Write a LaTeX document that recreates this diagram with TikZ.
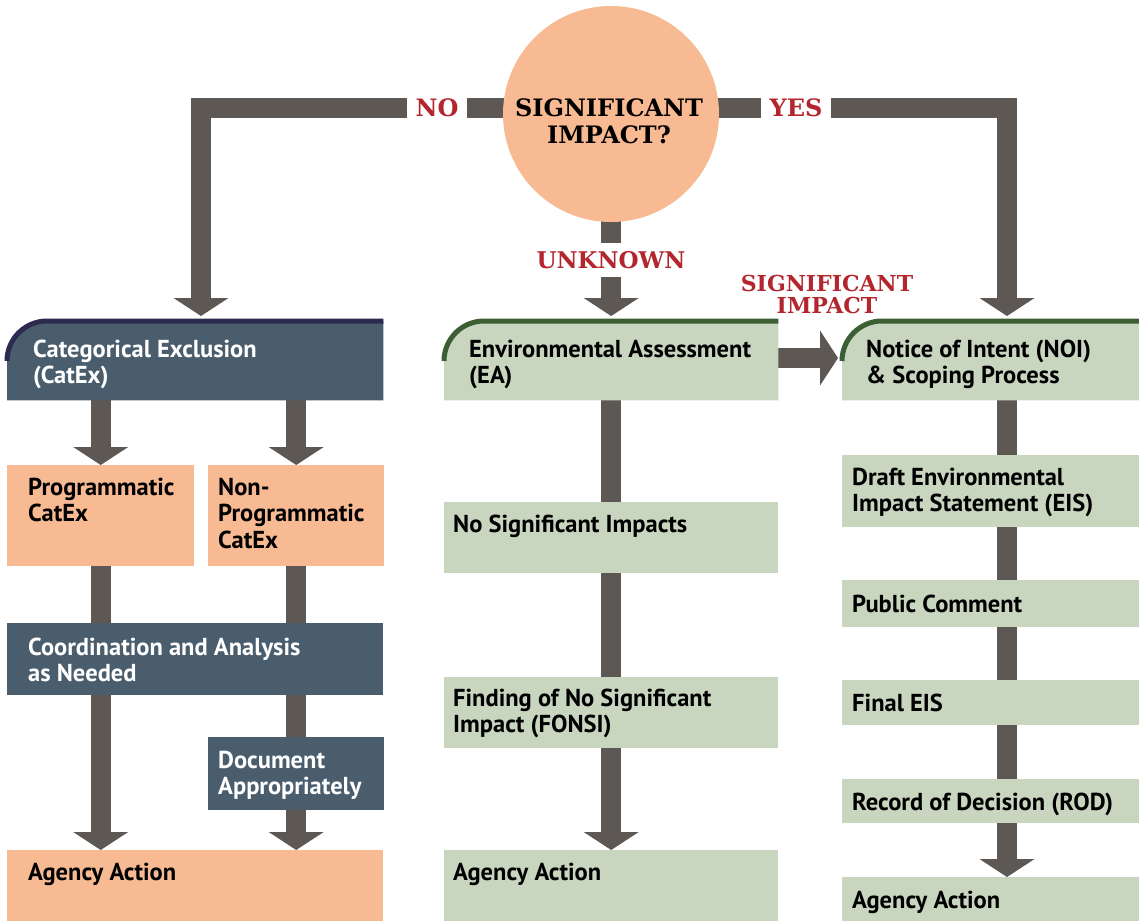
\documentclass[tikz,border=0pt]{standalone}
\usepackage{fontspec}
\setmainfont{PT Sans}
\newfontfamily\slab{DejaVu Serif}
\usetikzlibrary{arrows.meta,shapes.geometric,calc}
\definecolor{shaftc}{HTML}{5E5854}
\definecolor{slatec}{HTML}{4A5D6D}
\definecolor{navyc}{HTML}{2D2A4F}
\definecolor{orangec}{HTML}{F7BA92}
\definecolor{greenc}{HTML}{C8D5BF}
\definecolor{greenl}{HTML}{3B5E33}
\definecolor{redc}{HTML}{B3262E}
\pgfdeclarelayer{back}
\pgfdeclarelayer{bg}
\pgfsetlayers{back,bg,main}
\newcommand\tstrut{\rule{0pt}{21pt}}
\newcommand\bx[6]{\node[box,fill=#6,minimum width={#4-#2},minimum height={#5-#3}] (#1) at (#2,#3) {};}
\newcommand\hdrbox[3]{%
  \fill[#2] (#1.south west) -- ([yshift=-40pt]#1.north west) arc[start angle=180,end angle=90,radius=40pt] -- (#1.north east) -- (#1.south east) -- cycle;
  \draw[#3,line width=5pt] ([yshift=-40pt]#1.north west) arc[start angle=180,end angle=90,radius=40pt] -- (#1.north east);}
\begin{document}
\begin{tikzpicture}[x=1pt,y=-1pt,
  box/.style={rectangle,inner sep=0pt,anchor=north west,draw=none},
  txt/.style={anchor=north west,inner sep=0pt,align=left,font=\bfseries\fontsize{24.5}{26.5}\selectfont},
  wtxt/.style={txt,text=white},
  shaft/.style={line width=20pt,draw=shaftc},
  head/.style={-{Triangle[width=55pt,length=18pt,line width=0pt]}},
  redlab/.style={font=\slab\bfseries\fontsize{24}{24}\selectfont,text=redc,fill=white,inner xsep=9pt,inner ysep=0pt,minimum height=26pt}]
\begin{pgfonlayer}{back}
\fill[white] (0,0) rectangle (1139,921);
\end{pgfonlayer}
\useasboundingbox (0,0) rectangle (1139,921);

% decision circle
\node[ellipse,fill=orangec,minimum width=216pt,minimum height=216pt,inner sep=0pt] (q) at (611,114) {};
\node[font=\slab\bfseries\fontsize{24}{27}\selectfont,align=center,inner sep=0pt] (qt) at (609,121) {SIGNIFICANT\\IMPACT?};

% header boxes
\node[box,minimum width=376pt,minimum height=79pt] (catex) at (7,321) {};
\node[box,minimum width=334pt,minimum height=79pt] (ea) at (444,321) {};
\node[box,minimum width=297pt,minimum height=79pt] (noi) at (842,321) {};
\hdrbox{catex}{slatec}{navyc}
\hdrbox{ea}{greenc}{greenl}
\hdrbox{noi}{greenc}{greenl}

% other boxes
\bx{prog}{7}{465}{194}{566}{orangec}
\bx{nonprog}{208}{465}{384}{566}{orangec}
\bx{coord}{7}{623}{383}{695}{slatec}
\bx{doc}{208}{737}{384}{810}{slatec}
\bx{agL}{7}{850}{383}{921}{orangec}
\bx{nosig}{444}{502}{778}{573}{greenc}
\bx{fonsi}{444}{677}{778}{748}{greenc}
\bx{agM}{444}{850}{778}{921}{greenc}
\bx{draft}{842}{455}{1139}{527}{greenc}
\bx{pub}{842}{580}{1139}{627}{greenc}
\bx{final}{842}{680}{1139}{725}{greenc}
\bx{rod}{842}{779}{1139}{823}{greenc}
\bx{agR}{842}{877}{1139}{921}{greenc}

% texts (node top = first baseline - 21)
\node[wtxt] (catex-t) at (33,336) {\tstrut Categorical Exclusion\\(CatEx)};
\node[txt] (ea-t) at (469,336) {\tstrut Environmental Assessment\\(EA)};
\node[txt] (noi-t) at (866,336) {\tstrut Notice of Intent (NOI)\\\& Scoping Process};
\node[txt] (prog-t) at (28,474) {\tstrut Programmatic\\CatEx};
\node[txt] (nonprog-t) at (218,474) {\tstrut Non-\\Programmatic\\CatEx};
\node[wtxt] (coord-t) at (28,634) {\tstrut Coordination and Analysis\\as Needed};
\node[wtxt] (doc-t) at (218,747) {\tstrut Document\\Appropriately};
\node[txt] (agL-t) at (28,859) {\tstrut Agency Action};
\node[txt] (nosig-t) at (453,511) {\tstrut No Significant Impacts};
\node[txt] (fonsi-t) at (453,685) {\tstrut Finding of No Significant\\Impact (FONSI)};
\node[txt] (agM-t) at (453,859) {\tstrut Agency Action};
\node[txt] (draft-t) at (852,464) {\tstrut Draft Environmental\\Impact Statement (EIS)};
\node[txt] (pub-t) at (852,591) {\tstrut Public Comment};
\node[txt] (final-t) at (852,690) {\tstrut Final EIS};
\node[txt] (rod-t) at (852,789) {\tstrut Record of Decision (ROD)};
\node[txt] (agR-t) at (852,887) {\tstrut Agency Action};

\coordinate (lb) at (201,108);
\coordinate (rb) at (1007,108);
\coordinate (sigy) at (0,358);

% connectors
\begin{pgfonlayer}{bg}
\draw[shaft,head,shorten >=5pt] (q.center |- lb) -- (lb) -- (lb |- catex.north);
\draw[shaft,head,shorten >=5pt] (q.center |- rb) -- (rb) -- (rb |- noi.north);
\draw[shaft,head,shorten >=5pt] (q.center -| ea.north) -- (ea.north);
\draw[shaft,head,shorten >=4pt] (ea.east |- sigy) -- (noi.west |- sigy);
\draw[shaft,head] (catex.south -| prog.north) -- (prog.north);
\draw[shaft,head] (catex.south -| nonprog.north) -- (nonprog.north);
\draw[shaft] (prog.south) -- (coord.north -| prog.south);
\draw[shaft] (nonprog.south) -- (coord.north -| nonprog.south);
\draw[shaft,head] (coord.south -| prog.south) -- (agL.north -| prog.south);
\draw[shaft] (coord.south -| doc.north) -- (doc.north);
\draw[shaft,head] (doc.south) -- (agL.north -| doc.south);
\draw[shaft] (ea.south) -- (nosig.north);
\draw[shaft] (nosig.south) -- (fonsi.north);
\draw[shaft,head] (fonsi.south) -- (agM.north);
\draw[shaft] (noi.south -| rb) -- (draft.north -| rb);
\draw[shaft] (draft.south -| rb) -- (pub.north -| rb);
\draw[shaft] (pub.south -| rb) -- (final.north -| rb);
\draw[shaft] (final.south -| rb) -- (rod.north -| rb);
\draw[shaft,head] (rod.south -| rb) -- (agR.north -| rb);
\end{pgfonlayer}

% connector labels
\node[redlab] (lno) at (437,108) {NO};
\node[redlab] (lyes) at (796,108) {YES};
\node[redlab,minimum height=34pt,inner xsep=2pt,font=\slab\bfseries\fontsize{23}{23}\selectfont] (lunk) at (611,260) {UNKNOWN};
\node[font=\slab\bfseries\fontsize{22}{22}\selectfont,text=redc,align=center,inner sep=0pt] (lsig) at (827,294) {SIGNIFICANT\\IMPACT};
\end{tikzpicture}
\end{document}
